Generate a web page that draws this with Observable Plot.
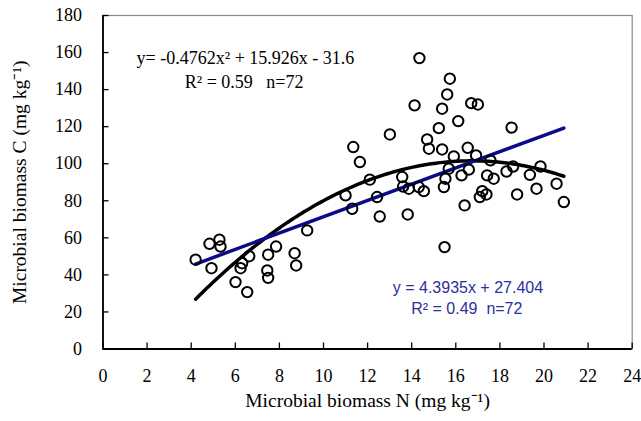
<!DOCTYPE html>
<html>
<head>
<meta charset="utf-8">
<script src="https://cdn.jsdelivr.net/npm/d3@7"></script>
<script src="https://cdn.jsdelivr.net/npm/@observablehq/plot@0.6"></script>
<style>
  body { margin: 0; background: #fff; }
  svg { display: block; }
  #chart svg, #chart svg g, #chart svg text { font-family: "Liberation Serif", "Times New Roman", serif !important; }
  #chart svg g[fill="#2e2e9c"], #chart svg g[fill="#2e2e9c"] text { font-family: "Liberation Sans", Arial, sans-serif !important; }
</style>
</head>
<body>
<div id="chart"></div>
<script>
// Microbial biomass N (x) vs microbial biomass C (y)
const nValues = [
  4.20, 4.83, 5.28, 5.33, 4.92, 6.63, 6.31, 6.24, 6.01, 6.54, 7.49, 7.85, 7.45, 7.49, 8.69, 8.76, 9.26,
  14.35, 15.73, 15.61, 14.13, 15.38, 16.70, 17.00, 16.11, 15.23, 18.53, 13.01, 11.35, 11.65, 14.70,
  14.78, 15.38, 16.54, 15.91, 16.92, 17.57, 16.59, 16.26, 15.68, 15.53, 15.46, 17.42, 17.72, 18.30,
  18.60, 19.36, 19.84, 20.57, 19.66, 18.78, 17.20, 17.39, 17.09, 16.40, 14.55, 14.32, 13.82, 12.55,
  12.43, 13.57, 13.61, 13.87, 12.10, 11.00, 11.30, 15.49, 20.90
];
const cValues = [
  48.2, 56.8, 59.0, 55.3, 43.6, 50.1, 46.3, 43.6, 36.1, 30.7, 50.9, 55.3, 42.4, 38.4, 51.7, 45.1, 64.0,
  157.0, 145.9, 137.4, 131.5, 129.7, 132.7, 132.0, 123.0, 119.2, 119.5, 115.8, 109.0, 100.9, 113.1,
  108.1, 107.7, 108.6, 103.9, 104.5, 101.8, 96.8, 93.7, 97.3, 91.9, 87.4, 93.7, 91.9, 95.8,
  98.5, 94.0, 98.5, 89.2, 86.5, 83.4, 85.2, 83.4, 82.0, 77.5, 85.2, 87.4, 72.6, 71.5,
  82.0, 92.8, 87.7, 86.5, 91.4, 82.9, 75.7, 55.0, 79.3
];
const xTicks = [0, 2, 4, 6, 8, 10, 12, 14, 16, 18, 20, 22, 24];
const yTicks = [0, 20, 40, 60, 80, 100, 120, 140, 160, 180];
// Trend-line coefficients printed on the chart
const quadCoef = [-0.4762, 15.926, -31.6];
const linCoef = [4.3935, 27.404];
const fitRange = [4.2, 20.9];

const points = nValues.map((x, i) => ({x, y: cValues[i]}));
const xs = d3.range(fitRange[0], fitRange[1] + 1e-9, 0.1);
const quadLine = xs.map(x => ({x, y: quadCoef[0] * x * x + quadCoef[1] * x + quadCoef[2]}));
const linLine = fitRange.map(x => ({x, y: linCoef[0] * x + linCoef[1]}));

const W = 641, H = 421;
const mT = 15, mB = 72.5, mL = 102.5, mR = 9.3;
const innerH = H - mT - mB, innerW = W - mL - mR;
const serif = "Liberation Serif";
const sans = "Liberation Sans";
const blueText = "#2e2e9c";

const chart = Plot.plot({
  width: W, height: H,
  marginTop: mT, marginBottom: mB, marginLeft: mL, marginRight: mR,
  style: {background: "#fff", overflow: "visible"},
  x: {domain: [0, 24]},
  y: {domain: [0, 180]},
  marks: [
    // gray top & right border
    Plot.frame({stroke: "#8a8a8a", strokeWidth: 1.2}),
    // axis labels
    Plot.axisX({ticks: xTicks, tickSize: 0, tickPadding: 20, fontSize: 18, fontFamily: serif, fill: "#000", label: null}),
    Plot.axisY({ticks: yTicks, tickSize: 0, tickPadding: 21, fontSize: 18, fontFamily: serif, fill: "#000", label: null}),
    // inward tick marks
    Plot.tickX(xTicks, {x: d => d, stroke: "#000", strokeWidth: 1.3, insetTop: innerH - 6}),
    Plot.tickY(yTicks, {y: d => d, stroke: "#000", strokeWidth: 1.3, insetRight: innerW - 6}),
    // black left and bottom axis lines
    Plot.ruleX([0], {stroke: "#000", strokeWidth: 1.8}),
    Plot.ruleY([0], {stroke: "#000", strokeWidth: 1.8}),
    // trend lines
    Plot.line(quadLine, {x: "x", y: "y", stroke: "#000", strokeWidth: 3.5}),
    Plot.line(linLine, {x: "x", y: "y", stroke: "#0a0a8a", strokeWidth: 3.5}),
    // data points
    Plot.dot(points, {x: "x", y: "y", r: 5.2, stroke: "#000", strokeWidth: 2, fill: "none"}),
    // equations
    Plot.text(["y= -0.4762x² + 15.926x - 31.6"], {x: 6.46, y: 156.9, fontSize: 18, fill: "#000"}),
    Plot.text(["R² = 0.59   n=72"], {x: 6.4, y: 143.9, fontSize: 18, fill: "#000"}),
    Plot.text(["y = 4.3935x + 27.404"], {x: 16.55, y: 33.2, fontSize: 16, fill: blueText, fontFamily: sans}),
    Plot.text(["R² = 0.49  n=72"], {x: 16.5, y: 21.9, fontSize: 16, fill: blueText, fontFamily: sans}),
    // axis titles
    Plot.text(["Microbial biomass N (mg kg⁻¹)"], {frameAnchor: "bottom", dy: 58, fontSize: 19.5, fill: "#000"}),
    Plot.text(["Microbial biomass C (mg kg⁻¹)"], {frameAnchor: "left", textAnchor: "middle", dx: -83, rotate: -90, fontSize: 19.5, fill: "#000"})
  ]
});
document.getElementById("chart").appendChild(chart);
</script>
</body>
</html>
